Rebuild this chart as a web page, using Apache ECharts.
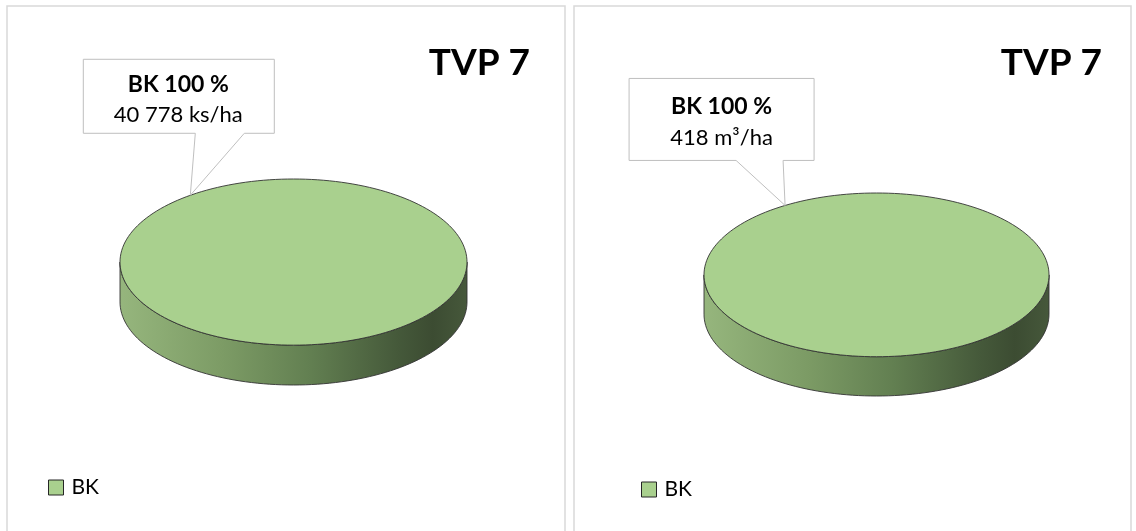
<!DOCTYPE html>
<html>
<head>
<meta charset="utf-8">
<title>TVP 7</title>
<script src="https://cdn.jsdelivr.net/npm/echarts@6/dist/echarts.min.js"></script>
<style>
  html, body { margin: 0; padding: 0; background: #fff; }
  #chart { width: 1136px; height: 531px; }
</style>
</head>
<body>
<div id="chart"></div>
<script>
// data
const categories = ['BK']
const stemCounts = [40778] // ks/ha
const volumes = [418] // m³/ha
const units = ['ks/ha', 'm³/ha']
const titles = ['TVP 7', 'TVP 7']

const FONT = 'Lato, "Open Sans", sans-serif'
const SLICE_COLORS = ['#a9d08e']
const EDGE = '#333333'
const DEPTH = 0.48 // height of the rim, in vertical radii

// pixel layout of each panel, the pie itself is drawn through the grid scales
const panels = [
  {
    values: stemCounts,
    grid: { left: 120, top: 179, width: 347, height: 206 },
    tipAngle: 126.5,
    box: { l: -107, r: 84, t: -136, b: -62, p1: 5, p2: 54, tx: -12, y1: -110.5, y2: -80.5 },
    legend: { left: 48, top: 477 },
    title: { right: 606, top: 45 },
    frame: { x: 7, y: 6, width: 558, height: 560 }
  },
  {
    values: volumes,
    grid: { left: 704, top: 193, width: 345, height: 203 },
    tipAngle: 122,
    box: { l: -156, r: 29, t: -127, b: -45, p1: -49, p2: -2, tx: -63.5, y1: -99, y2: -68 },
    legend: { left: 641, top: 479 },
    title: { right: 34, top: 45 },
    frame: { x: 574, y: 6, width: 557, height: 560 }
  }
]

const fmt = v => String(v).replace(/\B(?=(\d{3})+(?!\d))/g, ' ')

const sideGradient = () => new echarts.graphic.LinearGradient(0, 0, 1, 0, [
  { offset: 0, color: '#96b67d' },
  { offset: 0.3, color: '#7c9b65' },
  { offset: 0.55, color: '#627f51' },
  { offset: 0.8, color: '#45593a' },
  { offset: 0.9, color: '#3c4c32' },
  { offset: 1, color: '#46583b' }
])

function pieRenderer(panelIdx, i) {
  const p = panels[panelIdx]
  const values = p.values
  const total = values.reduce((a, b) => a + b, 0)
  return function (params, api) {
    const before = values.slice(0, i).reduce((a, b) => a + b, 0)
    const share = values[i] / total
    // first slice starts at 12 o'clock, clockwise
    const a0 = Math.PI / 2 - before / total * Math.PI * 2
    const sweep = share * Math.PI * 2
    const steps = Math.max(2, Math.ceil(sweep / Math.PI * 90))
    const arc = []
    for (let k = 0; k <= steps; k++) arc.push(a0 - sweep * k / steps)
    const pt = (t, dy = 0) => api.coord([Math.cos(t), Math.sin(t) - dy])

    const children = []
    // rim: only where it faces the viewer
    let run = []
    const flush = () => {
      if (run.length > 1) {
        const pts = run.map(t => pt(t)).concat(run.slice().reverse().map(t => pt(t, DEPTH)))
        children.push({ type: 'polygon', shape: { points: pts }, style: { fill: sideGradient(), stroke: EDGE, lineWidth: 0.9 } })
      }
      run = []
    }
    arc.forEach(t => { if (Math.sin(t) <= 1e-9) run.push(t); else flush() })
    flush()

    const topPts = arc.map(t => pt(t))
    if (share < 0.9999) topPts.push(api.coord([0, 0]))
    children.push({ type: 'polygon', shape: { points: topPts }, style: { fill: SLICE_COLORS[i], stroke: EDGE, lineWidth: 0.9 } })

    // callout
    const tip = pt(p.tipAngle * Math.PI / 180)
    const b = p.box
    const L = tip[0] + b.l, R = tip[0] + b.r, T = tip[1] + b.t, B = tip[1] + b.b
    children.push({
      type: 'polygon',
      shape: { points: [[L, T], [R, T], [R, B], [tip[0] + b.p2, B], tip, [tip[0] + b.p1, B], [L, B]] },
      style: { fill: '#fff', stroke: '#bfbfbf', lineWidth: 1 }
    })
    children.push({
      type: 'text',
      style: {
        text: categories[i] + ' ' + Math.round(share * 100) + ' %',
        x: tip[0] + b.tx, y: tip[1] + b.y1, align: 'center', verticalAlign: 'middle',
        fontFamily: FONT, fontWeight: 'bold', fontSize: 23, fill: '#000'
      }
    })
    children.push({
      type: 'text',
      style: {
        text: fmt(values[i]) + ' ' + units[panelIdx],
        x: tip[0] + b.tx, y: tip[1] + b.y2, align: 'center', verticalAlign: 'middle',
        fontFamily: FONT, fontSize: 22, fill: '#000'
      }
    })
    return { type: 'group', children }
  }
}

const chart = echarts.init(document.getElementById('chart'))

const series = []
panels.forEach((p, k) => {
  categories.forEach((c, i) => {
    series.push({
      type: 'custom',
      name: c,
      xAxisIndex: k,
      yAxisIndex: k,
      itemStyle: { color: SLICE_COLORS[i] },
      encode: { x: 0, y: 1 },
      data: [[0, 0, p.values[i]]],
      renderItem: pieRenderer(k, i),
      silent: true,
      animation: false
    })
  })
})

chart.setOption({
  animation: false,
  title: panels.map((p, k) => ({
    text: titles[k],
    right: p.title.right,
    top: p.title.top,
    padding: 0,
    textStyle: { fontFamily: FONT, fontWeight: 'bold', fontSize: 37, color: '#000' }
  })),
  legend: panels.map(p => ({
    data: categories,
    left: p.legend.left,
    top: p.legend.top,
    padding: 0,
    icon: 'rect',
    itemWidth: 15,
    itemHeight: 15,
    itemStyle: { borderColor: '#262626', borderWidth: 1 },
    textStyle: { fontFamily: FONT, fontSize: 21, color: '#000', padding: [0, 0, 0, 3] },
    selectedMode: false
  })),
  grid: panels.map(p => Object.assign({ containLabel: false }, p.grid)),
  xAxis: panels.map((p, k) => ({ type: 'value', gridIndex: k, min: -1, max: 1, show: false })),
  yAxis: panels.map((p, k) => ({ type: 'value', gridIndex: k, min: -1 - DEPTH, max: 1, show: false })),
  graphic: panels.map(p => ({
    type: 'rect',
    shape: p.frame,
    style: { fill: 'none', stroke: '#d9d9d9', lineWidth: 1.5 },
    silent: true
  })),
  series
})
</script>
</body>
</html>
